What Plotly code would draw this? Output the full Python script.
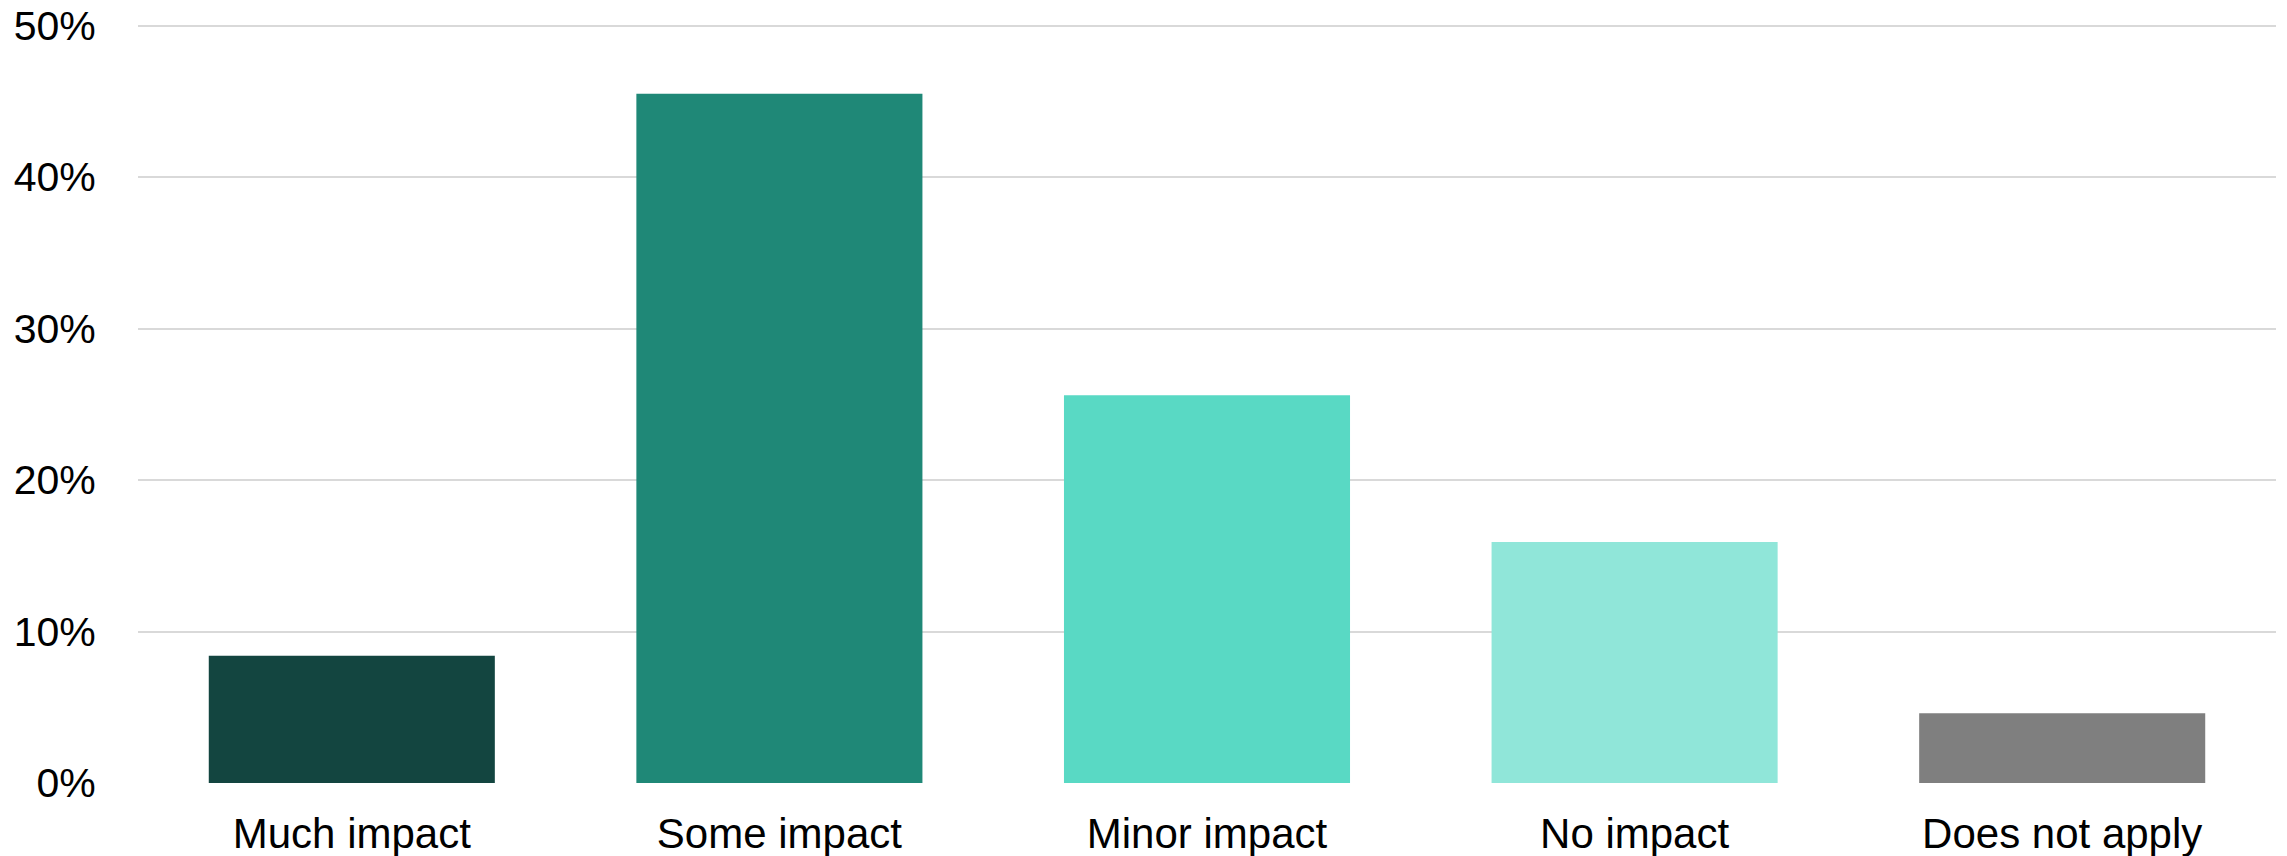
import plotly.graph_objects as go

# Survey responses: share of respondents per impact level
categories = ["Much impact", "Some impact", "Minor impact", "No impact", "Does not apply"]
shares = [8.4, 45.5, 25.6, 15.9, 4.6]
bar_colors = ["#134540", "#1F8877", "#59D9C4", "#90E6D9", "#7F7F7F"]
y_ticks = [0, 10, 20, 30, 40, 50]
y_tick_labels = ["0%", "10%", "20%", "30%", "40%", "50%"]

fig = go.Figure(
    go.Bar(
        x=categories,
        y=shares,
        marker=dict(color=bar_colors, line=dict(width=0)),
        hoverinfo="x+y",
    )
)

fig.update_layout(
    width=2287,
    height=856,
    margin=dict(l=138, r=11, t=24, b=73, autoexpand=False),
    paper_bgcolor="white",
    plot_bgcolor="white",
    bargap=0.331,
    showlegend=False,
    font=dict(family="Liberation Sans, Arial, sans-serif", size=42, color="black"),
)

fig.update_xaxes(
    automargin=False,
    showgrid=False,
    showline=False,
    ticks="outside",
    ticklen=14,
    tickcolor="rgba(0,0,0,0)",
    tickfont=dict(size=42, color="black"),
)

# Range extends a hair past 50 so the top gridline is kept inside the plot
fig.update_yaxes(
    automargin=False,
    range=[0, 50.1],
    tickmode="array",
    tickvals=y_ticks,
    ticktext=y_tick_labels,
    showgrid=True,
    gridcolor="#D9D9D9",
    gridwidth=2,
    zeroline=False,
    showline=False,
    ticks="outside",
    ticklen=33,
    tickcolor="rgba(0,0,0,0)",
    tickfont=dict(size=41, color="black"),
)

fig.write_html("out.html")
